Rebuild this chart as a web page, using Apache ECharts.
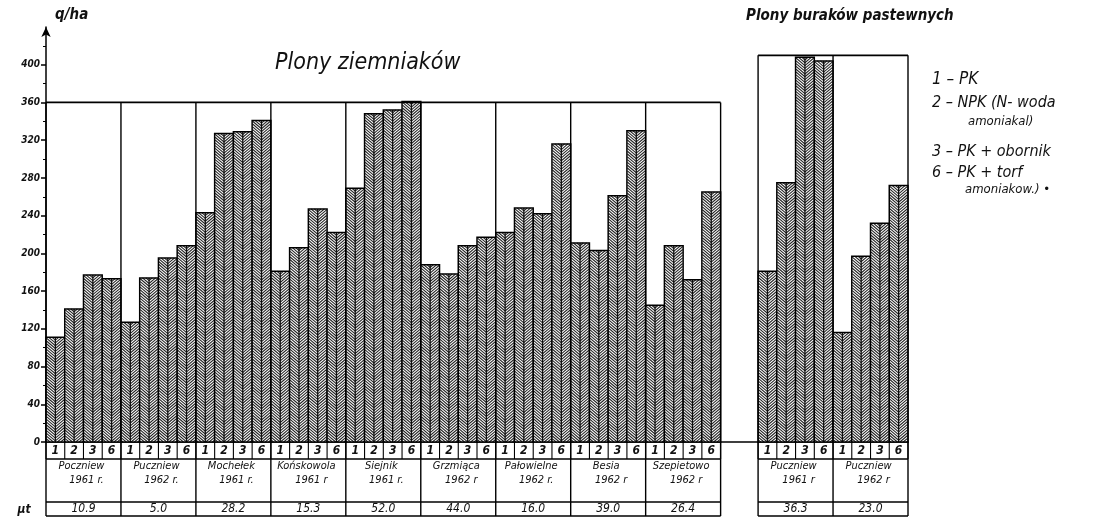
<!DOCTYPE html>
<html><head><meta charset="utf-8">
<script src="https://cdn.jsdelivr.net/npm/echarts@6/dist/echarts.min.js"></script>
<style>html,body{margin:0;padding:0;background:#fff}#c{width:1120px;height:519px}</style>
</head><body><div id="c"></div><script>
// ---- data ----
const treatments = ['1', '2', '3', '6'];
const potatoPlaces = ['Poczniew', 'Puczniew', 'Mochełek', 'Końskowola', 'Siejnik', 'Grzmiąca', 'Pałowielne', 'Besia', 'Szepietowo'];
const potatoYears = ['1961 r.', '1962 r.', '1961 r.', '1961 r', '1961 r.', '1962 r', '1962 r.', '1962 r', '1962 r'];
const potatoArea = ['10.9', '5.0', '28.2', '15.3', '52.0', '44.0', '16.0', '39.0', '26.4'];
const potatoPK = [111, 127, 243, 181, 269, 188, 222, 211, 145];
const potatoNPK = [141, 174, 327, 206, 348, 178, 248, 203, 208];
const potatoObornik = [177, 195, 329, 247, 352, 208, 242, 261, 172];
const potatoTorf = [173, 208, 341, 222, 361, 217, 316, 330, 265];
const beetPlaces = ['Puczniew', 'Puczniew'];
const beetYears = ['1961 r', '1962 r'];
const beetArea = ['36.3', '23.0'];
const beetPK = [181, 116];
const beetNPK = [275, 197];
const beetObornik = [408, 232];
const beetTorf = [404, 272];
const yTicks = [0, 40, 80, 120, 160, 200, 240, 280, 320, 360, 400];
const potatoFrameTop = 360;
const beetFrameTop = 410;
const legendLines = ['1 – PK', '2 – NPK (N- woda', 'amoniakal)', '3 – PK + obornik', '6 – PK + torf', 'amoniakow.) •'];

// ---- build slots ----
const categories = [];
const barData = [];
const potatoSets = [potatoPK, potatoNPK, potatoObornik, potatoTorf];
const beetSets = [beetPK, beetNPK, beetObornik, beetTorf];
potatoPlaces.forEach((p, g) => treatments.forEach((t, k) => {
  categories.push(p + ' ' + potatoYears[g] + ' #' + t);
  barData.push([categories.length - 1, potatoSets[k][g], k]);
}));
const gapSlots = 2;
for (let i = 0; i < gapSlots; i++) categories.push('gap' + i);
const beetStart = categories.length;
beetPlaces.forEach((p, g) => treatments.forEach((t, k) => {
  categories.push('burak ' + p + ' ' + beetYears[g] + ' #' + t);
  barData.push([categories.length - 1, beetSets[k][g], k]);
}));

const FONT = '"DejaVu Sans Condensed","DejaVu Sans",sans-serif';

const HatchBar = echarts.graphic.extendShape({
  shape: { x: 0, y: 0, width: 0, height: 0, step: 2.8, slope: 0.85 },
  buildPath(ctx, s) {
    const x0 = s.x, x1 = s.x + s.width, cx = s.x + s.width / 2;
    const top = s.y, bot = s.y + s.height;
    const d = (s.width / 2) * s.slope;
    function seg(ax, ay, bx, by) {
      const t0 = Math.max(0, (top - ay) / (by - ay));
      const t1 = Math.min(1, (bot - ay) / (by - ay));
      if (t1 <= t0) return;
      ctx.moveTo(ax + (bx - ax) * t0, ay + (by - ay) * t0);
      ctx.lineTo(ax + (bx - ax) * t1, ay + (by - ay) * t1);
    }
    for (let y = top - d; y < bot; y += s.step) {
      seg(x0, y, cx, y + d);
      seg(x1, y, cx, y + d);
    }
  }
});
echarts.graphic.registerShape('hatchBar', HatchBar);

function renderItem(params, api) {
  const i = api.value(0), v = api.value(1);
  const base = api.coord([i, 0]), tp = api.coord([i, v]);
  const w = api.size([1, 0])[0];
  const x0 = base[0] - w / 2, top = tp[1], h = base[1] - tp[1];
  return {
    type: 'group', children: [
      { type: 'rect', shape: { x: x0, y: top, width: w, height: h }, style: { fill: '#fff' } },
      { type: 'hatchBar', shape: { x: x0 + 0.5, y: top, width: w - 1, height: h }, style: { stroke: '#262626', lineWidth: 1.1, fill: null } },
      { type: 'line', shape: { x1: base[0], y1: top, x2: base[0], y2: base[1] }, style: { stroke: '#111', lineWidth: 1.3 } },
      { type: 'rect', shape: { x: x0, y: top, width: w, height: h }, style: { fill: null, stroke: '#000', lineWidth: 1.5 } }
    ]
  };
}

const chart = echarts.init(document.getElementById('c'), null, { renderer: 'canvas' });
const option = {
  backgroundColor: '#fff',
  animation: false,
  title: [
    { text: 'Plony ziemniaków', left: 270, top: 47, textStyle: { fontFamily: FONT, fontStyle: 'italic', fontWeight: 'normal', fontSize: 23, color: '#111' } },
    { text: 'Plony buraków pastewnych', left: 741, top: 4, textStyle: { fontFamily: FONT, fontStyle: 'italic', fontWeight: 'bold', fontSize: 15, color: '#111' } },
    { text: 'q/ha', left: 50, top: 3, textStyle: { fontFamily: FONT, fontStyle: 'italic', fontWeight: 'bold', fontSize: 15, color: '#111' } }
  ],
  grid: { left: 46, right: 212, top: 27, bottom: 77, containLabel: false, outerBoundsMode: 'none' },
  xAxis: {
    type: 'category', data: categories, boundaryGap: true,
    axisLine: { lineStyle: { color: '#000', width: 1.5 } },
    axisTick: { show: false }, axisLabel: { show: false }, splitLine: { show: false }
  },
  yAxis: {
    type: 'value', min: 0, max: 440, interval: 40,
    axisLine: { show: true, symbol: ['none', 'arrow'], symbolSize: [7, 10], lineStyle: { color: '#000', width: 1.5 } },
    axisTick: { show: true, length: 5, customValues: yTicks, lineStyle: { color: '#000', width: 1.5 } },
    minorTick: { show: true, splitNumber: 2, length: 3, lineStyle: { color: '#000' } },
    axisLabel: {
      customValues: yTicks, margin: 6,
      formatter: v => (yTicks.includes(v) ? String(v) : ''),
      fontFamily: FONT, fontStyle: 'italic', fontWeight: 'bold', fontSize: 10, color: '#111'
    },
    splitLine: { show: false }
  },
  series: [{ type: 'custom', renderItem, data: barData, encode: { x: 0, y: 1 }, clip: false, z: 2 }]
};
chart.setOption(option);

// ---- frames and table derived from the axes ----
const px = i => chart.convertToPixel({ xAxisIndex: 0 }, i);
const py = v => chart.convertToPixel({ yAxisIndex: 0 }, v);
const w = px(1) - px(0);
const yb = py(0);
const r1 = yb + 17, r2 = yb + 60, r3 = yb + 74;
const g = [];
const line = (x1, y1, x2, y2, lw) => g.push({ type: 'line', z: 10, shape: { x1, y1, x2, y2 }, style: { stroke: '#000', lineWidth: lw || 1.3 } });
const text = (t, x, y, size, align, weight) => g.push({ type: 'text', z: 11, style: { text: t, x, y, font: 'italic ' + (weight || 'normal') + ' ' + size + 'px ' + FONT, fill: '#111', textAlign: align || 'center', textVerticalAlign: 'middle' } });

function panel(startSlot, places, years, area, topVal) {
  const n = places.length;
  const left = px(startSlot) - w / 2, right = left + n * 4 * w;
  const yt = py(topVal);
  line(left, yt, right, yt, 1.8);
  [r1, r2, r3].forEach(y => line(left, y, right, y, 1.4));
  for (let k = 0; k <= n; k++) line(left + k * 4 * w, yt, left + k * 4 * w, r3, 1.4);
  for (let s = 0; s <= n * 4; s++) {
    line(left + s * w, yb, left + s * w, r1, 1.1);
    if (s < n * 4) text(treatments[s % 4], left + (s + 0.5) * w, yb + 9, 12, 'center', 'bold');
  }
  places.forEach((p, k) => {
    const cx = left + (k + 0.5) * 4 * w;
    text(p, cx - 2, yb + 24, 11);
    text(years[k], cx + 3, yb + 38, 11);
    text(area[k], cx, yb + 67, 12);
  });
}
panel(0, potatoPlaces, potatoYears, potatoArea, potatoFrameTop);
panel(beetStart, beetPlaces, beetYears, beetArea, beetFrameTop);
text('µt', 24, yb + 68, 12, 'center', 'bold');

const legendY = [80, 103, 122, 152, 173, 190];
const legendX = [932, 932, 968, 932, 932, 965];
const legendSize = [17, 16, 13, 16, 16, 13];
legendLines.forEach((t, i) => text(t, legendX[i], legendY[i], legendSize[i], 'left'));

chart.setOption({ graphic: g });
</script></body></html>
